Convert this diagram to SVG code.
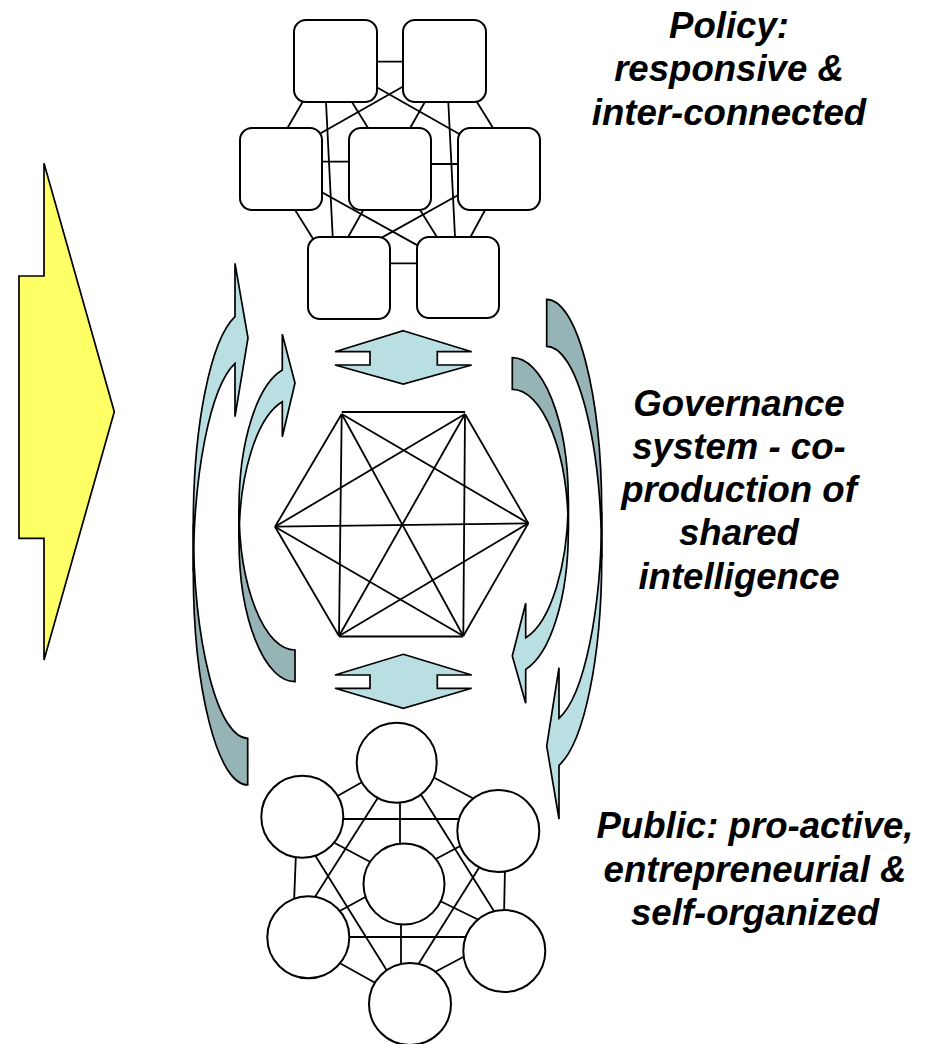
<svg xmlns="http://www.w3.org/2000/svg" width="931" height="1044" viewBox="0 0 931 1044">
<style>
.ln{stroke:#000;stroke-width:1.8;fill:none}
.box{fill:#fff;stroke:#000;stroke-width:2}
.nd{fill:#fff;stroke:#000;stroke-width:2}
.lt{fill:#B9DFE3;stroke:#000;stroke-width:1.7;stroke-linejoin:miter}
.dk{fill:#96B3B6;stroke:#000;stroke-width:1.7}
.yl{fill:#FFFF66;stroke:#000;stroke-width:1.7}
.t{font-family:"Liberation Sans",Arial,sans-serif;font-size:36.6px;font-weight:bold;font-style:italic;text-anchor:middle;fill:#000}
</style>
<rect width="931" height="1044" fill="#fff"/>

<g id="big-arrow">
<polygon class="yl" points="44,163.3 114.3,411.7 44,660 44,538.3 19,538.3 19,276 44,276"/>
</g>

<g id="curved-arrows">
<g id="left-outer">
<path class="dk" d="M193.3,524.5 A54.4,213.8 0 0 0 247.7,738.3 L247.7,785 A54.4,213.8 0 0 1 193.3,571.2 Z"/>
<path class="lt" d="M193.3,524.5 A54.4,213.8 0 0 1 235,316.7 L235,263.3 L248,338 L235,416.7 L235,363.4 A54.4,213.8 0 0 0 193.3,571.2 Z"/>
</g>
<g id="left-inner">
<path class="dk" d="M239,508.2 A56,141.8 0 0 0 295,650 L295,681.7 A56,141.8 0 0 1 239,539.9 Z"/>
<path class="lt" d="M239,508.2 A56,141.8 0 0 1 282.3,370.1 L282.3,334.3 L295,383 L282.3,436.7 L282.3,401.8 A56,141.8 0 0 0 239,539.9 Z"/>
</g>
<g id="right-outer">
<path class="dk" d="M601.7,511.5 A55,212.2 0 0 0 546.7,299.3 L546.7,346.3 A55,212.2 0 0 1 601.7,558.5 Z"/>
<path class="lt" d="M601.7,511.5 A55,212.2 0 0 1 559,718.3 L559,667.7 L546.7,746 L559,819 L559,765.3 A55,212.2 0 0 0 601.7,558.5 Z"/>
</g>
<g id="right-inner">
<path class="dk" d="M568.3,499.8 A56,142.1 0 0 0 512.3,357.7 L512.3,389.3 A56,142.1 0 0 1 568.3,531.4 Z"/>
<path class="lt" d="M568.3,499.8 A56,142.1 0 0 1 525.7,637.8 L525.7,603.3 L512.3,656 L525.7,703.3 L525.7,669.4 A56,142.1 0 0 0 568.3,531.4 Z"/>
</g>
</g>

<g id="double-arrows">
<polygon id="dbl-top" class="lt" points="403.3,330.7 471.7,351.7 437.3,351.7 437.3,365 471.7,365 403.3,384 335,365 370,365 370,351.7 335,351.7"/>
<polygon id="dbl-bottom" class="lt" points="403.3,654.3 471.7,675 437.3,675 437.3,688.3 471.7,688.3 403.3,708.3 335,688.3 370,688.3 370,675 335,675"/>
</g>

<g id="connectors">
<g id="policy-links">
<line class="ln" x1="370" y1="61.7" x2="410" y2="61.7"/>
<line class="ln" x1="304.7" y1="98.2" x2="285.3" y2="131.8"/>
<line class="ln" x1="349.6" y1="98.3" x2="370.4" y2="131.7"/>
<line class="ln" x1="427" y1="98.2" x2="408" y2="131.8"/>
<line class="ln" x1="474.6" y1="98.3" x2="495.4" y2="131.7"/>
<line class="ln" x1="373.2" y1="85.3" x2="462.8" y2="136"/>
<line class="ln" x1="406.2" y1="84.7" x2="315.8" y2="136"/>
<line class="ln" x1="325.8" y1="97.7" x2="332.9" y2="240.7"/>
<line class="ln" x1="448.1" y1="97.7" x2="455.2" y2="240.7"/>
<line class="ln" x1="318" y1="161.7" x2="353" y2="161.7"/>
<line class="ln" x1="427" y1="164" x2="461.7" y2="164"/>
<line class="ln" x1="292.9" y1="206.6" x2="313.8" y2="240.1"/>
<line class="ln" x1="365.3" y1="206.5" x2="346.3" y2="240.2"/>
<line class="ln" x1="417.9" y1="206.6" x2="438.8" y2="240.1"/>
<line class="ln" x1="487" y1="206.5" x2="468.7" y2="240.2"/>
<line class="ln" x1="319.2" y1="190.8" x2="420.2" y2="246.9"/>
<line class="ln" x1="461.8" y1="193" x2="378.2" y2="239.6"/>
<line class="ln" x1="386" y1="263.3" x2="421" y2="263.3"/>
</g>
<g id="hexagon-links">
<line class="ln" x1="341.7" y1="412" x2="465" y2="412"/>
<line class="ln" x1="465" y1="414" x2="528.3" y2="523.3"/>
<line class="ln" x1="528.3" y1="523.3" x2="463.3" y2="636"/>
<line class="ln" x1="463.3" y1="636.5" x2="339" y2="636.5"/>
<line class="ln" x1="339" y1="636" x2="275" y2="526.7"/>
<line class="ln" x1="275" y1="526.7" x2="341.7" y2="414"/>
<line class="ln" x1="341.7" y1="414" x2="339" y2="636"/>
<line class="ln" x1="465" y1="414" x2="463.3" y2="636"/>
<line class="ln" x1="275" y1="526.7" x2="528.3" y2="523.3"/>
<line class="ln" x1="341.7" y1="414" x2="463.3" y2="636"/>
<line class="ln" x1="465" y1="414" x2="339" y2="636"/>
<line class="ln" x1="341.7" y1="414" x2="528.3" y2="523.3"/>
<line class="ln" x1="465" y1="414" x2="275" y2="526.7"/>
<line class="ln" x1="339" y1="636" x2="528.3" y2="523.3"/>
<line class="ln" x1="463.3" y1="636" x2="275" y2="526.7"/>
</g>
<g id="public-links">
<line class="ln" x1="364" y1="781" x2="334" y2="798"/>
<line class="ln" x1="431" y1="776" x2="478" y2="801"/>
<line class="ln" x1="400" y1="798" x2="400" y2="848"/>
<line class="ln" x1="379" y1="796" x2="313" y2="900"/>
<line class="ln" x1="420" y1="793" x2="497" y2="916"/>
<line class="ln" x1="339" y1="819" x2="463" y2="819"/>
<line class="ln" x1="331" y1="841" x2="374" y2="864"/>
<line class="ln" x1="296" y1="852" x2="294" y2="903"/>
<line class="ln" x1="313" y1="852" x2="389" y2="974"/>
<line class="ln" x1="464" y1="844" x2="432" y2="861"/>
<line class="ln" x1="505" y1="867" x2="504" y2="916"/>
<line class="ln" x1="482" y1="863" x2="416" y2="968"/>
<line class="ln" x1="336" y1="913" x2="369" y2="895"/>
<line class="ln" x1="438" y1="900" x2="483" y2="922"/>
<line class="ln" x1="346" y1="937" x2="469" y2="937"/>
<line class="ln" x1="401" y1="921" x2="401" y2="969"/>
<line class="ln" x1="336" y1="961" x2="379" y2="985"/>
<line class="ln" x1="433" y1="973" x2="467" y2="955"/>
</g>
</g>

<g id="policy-nodes">
<rect id="p1" class="box" x="294" y="20" width="83" height="82" rx="12"/>
<rect id="p2" class="box" x="403" y="20" width="83" height="82" rx="12"/>
<rect id="p3" class="box" x="240" y="128" width="82" height="82" rx="12"/>
<rect id="p4" class="box" x="349" y="128" width="82" height="82" rx="12"/>
<rect id="p5" class="box" x="458" y="128" width="82" height="82" rx="12"/>
<rect id="p6" class="box" x="308" y="237" width="82" height="82" rx="12"/>
<rect id="p7" class="box" x="417" y="237" width="82" height="81" rx="12"/>
</g>

<g id="public-nodes">
<circle id="c1" class="nd" cx="396.7" cy="762.7" r="40"/>
<circle id="c2" class="nd" cx="302.3" cy="816.7" r="41"/>
<circle id="c3" class="nd" cx="498.3" cy="831" r="41"/>
<circle id="c4" class="nd" cx="404" cy="884" r="40.5"/>
<circle id="c5" class="nd" cx="308.3" cy="937.3" r="41"/>
<circle id="c6" class="nd" cx="504.3" cy="951" r="41"/>
<circle id="c7" class="nd" cx="410" cy="1004" r="41"/>
</g>

<g id="label-policy">
<text class="t" x="729" y="38">Policy:</text>
<text class="t" x="729" y="81">responsive &amp;</text>
<text class="t" x="729" y="125">inter-connected</text>
</g>
<g id="label-governance">
<text class="t" x="739" y="416">Governance</text>
<text class="t" x="739" y="459">system - co-</text>
<text class="t" x="739" y="502">production of</text>
<text class="t" x="739" y="545">shared</text>
<text class="t" x="739" y="589">intelligence</text>
</g>
<g id="label-public">
<text class="t" x="755" y="838">Public: pro-active,</text>
<text class="t" x="755" y="882">entrepreneurial &amp;</text>
<text class="t" x="755" y="925">self-organized</text>
</g>
</svg>
